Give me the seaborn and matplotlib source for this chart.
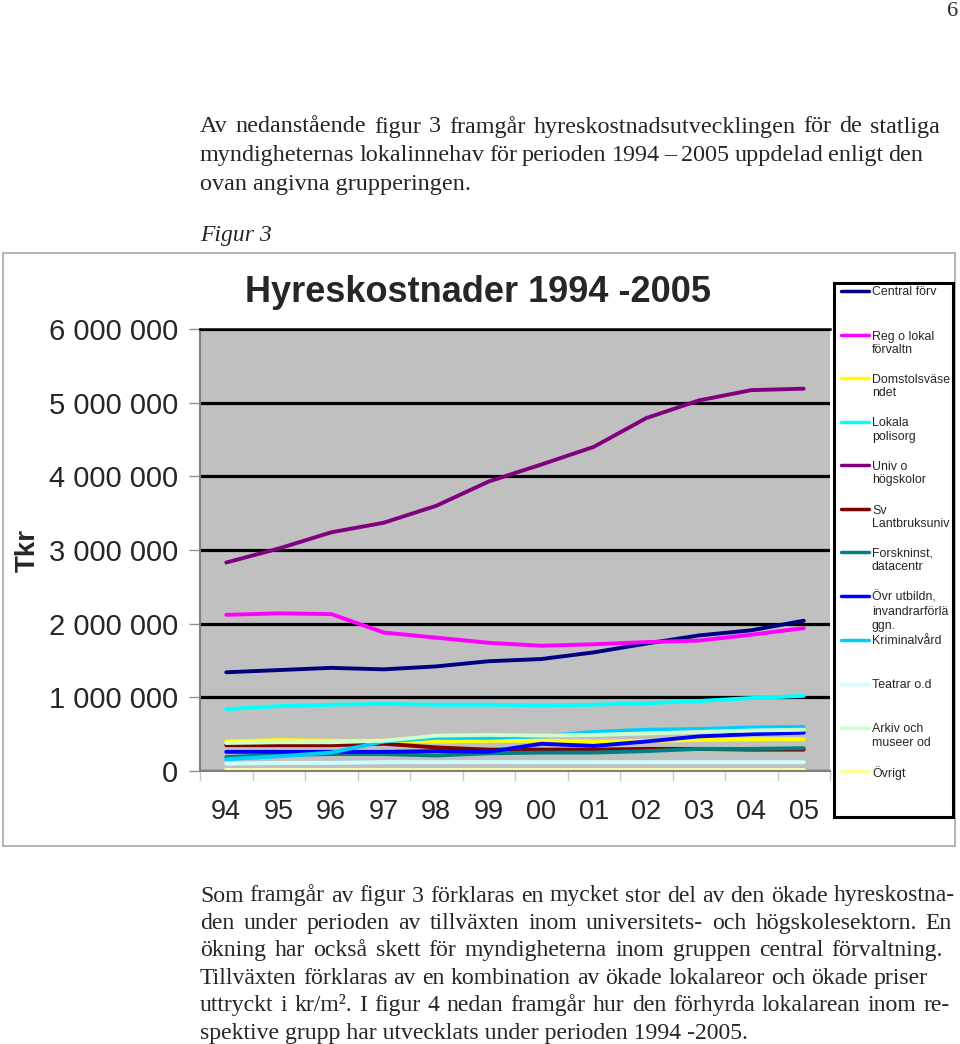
import matplotlib
matplotlib.use("Agg")
import matplotlib.pyplot as plt
from matplotlib.lines import Line2D
from matplotlib.patches import Rectangle
from matplotlib.ticker import FixedLocator, FuncFormatter
import pandas as pd
import seaborn as sns

# data (Tkr)
years = ["94", "95", "96", "97", "98", "99", "00", "01", "02", "03", "04", "05"]

central_forv = [1340000, 1370000, 1400000, 1380000, 1420000, 1490000, 1520000, 1610000, 1730000, 1840000, 1910000, 2040000]
reg_lokal = [2120000, 2140000, 2130000, 1880000, 1810000, 1740000, 1700000, 1720000, 1750000, 1770000, 1850000, 1940000]
domstol = [400000, 420000, 410000, 410000, 400000, 410000, 410000, 400000, 410000, 420000, 430000, 430000]
polis = [840000, 880000, 900000, 910000, 900000, 900000, 890000, 900000, 920000, 950000, 990000, 1020000]
univ = [2830000, 3020000, 3240000, 3370000, 3600000, 3930000, 4160000, 4400000, 4790000, 5030000, 5170000, 5190000]
lantbruk = [350000, 350000, 350000, 370000, 320000, 290000, 290000, 290000, 300000, 300000, 290000, 290000]
forsk = [190000, 220000, 230000, 230000, 210000, 240000, 250000, 250000, 270000, 300000, 300000, 310000]
ovr_utb = [260000, 260000, 260000, 260000, 270000, 260000, 370000, 340000, 400000, 470000, 500000, 520000]
krim = [160000, 200000, 250000, 400000, 450000, 450000, 470000, 530000, 560000, 570000, 590000, 600000]
teatrar = [100000, 110000, 110000, 120000, 120000, 120000, 120000, 120000, 120000, 120000, 120000, 120000]
arkiv = [380000, 390000, 390000, 410000, 480000, 490000, 480000, 490000, 510000, 530000, 550000, 560000]
ovrigt = [20000, 20000, 20000, 20000, 20000, 20000, 20000, 20000, 20000, 20000, 20000, 20000]

series = ["Central förv", "Reg o lokal förvaltn", "Domstolsväsendet", "Lokala polisorg",
          "Univ o högskolor", "Sv Lantbruksuniv", "Forskninst, datacentr",
          "Övr utbildn, invandrarförlägg.", "Kriminalvård", "Teatrar o.d",
          "Arkiv och museer od", "Övrigt"]
legend_labels = ["Central förv", "Reg o lokal\nförvaltn", "Domstolsväse\nndet", "Lokala\npolisorg",
                 "Univ o\nhögskolor", "Sv\nLantbruksuniv", "Forskninst,\ndatacentr",
                 "Övr utbildn,\ninvandrarförlä\nggn.", "Kriminalvård", "Teatrar o.d",
                 "Arkiv och\nmuseer od", "Övrigt"]
colors = ["#000080", "#FF00FF", "#FFFF00", "#00FFFF", "#800080", "#800000",
          "#008080", "#0000FF", "#00CCFF", "#CCFFFF", "#CCFFCC", "#FFFF99"]
values = [central_forv, reg_lokal, domstol, polis, univ, lantbruk, forsk,
          ovr_utb, krim, teatrar, arkiv, ovrigt]

rows = []
for name, vals in zip(series, values):
    for i, v in enumerate(vals):
        rows.append((name, i, v))
df = pd.DataFrame(rows, columns=["grupp", "ar", "tkr"])

sns.set_style("white")
plt.rcParams["font.family"] = ["Liberation Sans", "DejaVu Sans"]

W, H = 960, 1044
fig = plt.figure(figsize=(9.6, 10.44), dpi=100)
renderer = fig.canvas.get_renderer()


def fx(x):
    return x / W


def fy(y):
    return 1 - y / H


# chart frame
fig.add_artist(Rectangle((fx(3), fy(846)), fx(952), (846 - 253) / H, transform=fig.transFigure,
                         fill=False, edgecolor="#A8A8A8", lw=1.2))

ax = fig.add_axes([fx(200), fy(771), 630 / W, 442 / H])
ax.set_facecolor("#C0C0C0")

sns.lineplot(data=df, x="ar", y="tkr", hue="grupp", hue_order=series,
             palette=dict(zip(series, colors)), linewidth=2.8, legend=False,
             errorbar=None, ax=ax)
for ln in ax.lines:
    ln.set_solid_joinstyle("round")
    ln.set_solid_capstyle("round")

ax.set_xlim(-0.5, 11.5)
ax.set_ylim(0, 6000000)
ax.set_xlabel("")
ax.set_ylabel("Tkr", fontsize=20, fontweight="bold")
ax.yaxis.set_label_coords(-0.253, 0.5)

ax.set_yticks([0, 1000000, 2000000, 3000000, 4000000, 5000000, 6000000])
ax.yaxis.set_major_formatter(FuncFormatter(lambda v, p: f"{int(v):,}".replace(",", " ")))
ax.set_xticks(range(len(years)))
ax.set_xticklabels(years)
ax.xaxis.set_minor_locator(FixedLocator([i - 0.5 for i in range(len(years) + 1)]))
ax.tick_params(axis="y", labelsize=21, length=8, width=1, color="#909090", pad=8, direction="out", left=True)
ax.tick_params(axis="x", which="major", labelsize=19.5, length=0, pad=20)
ax.tick_params(axis="x", which="minor", length=7, width=1, color="#C8C8C8", direction="out", bottom=True)

ax.grid(axis="y", color="black", lw=2.3)
ax.grid(axis="x", visible=False)
ax.set_axisbelow(True)
for s in ["left", "bottom"]:
    ax.spines[s].set_color("#808080")
    ax.spines[s].set_linewidth(1.5)
ax.spines["top"].set_color("black")
ax.spines["top"].set_linewidth(1.8)
ax.spines["right"].set_visible(False)

fig.text(fx(478), fy(293), "Hyreskostnader 1994 -2005", fontsize=26, fontweight="bold",
         ha="center", va="center")

# legend box
fig.add_artist(Rectangle((fx(834), fy(817)), 119 / W, (817 - 283) / H, transform=fig.transFigure,
                         facecolor="white", edgecolor="black", lw=2.2, zorder=5))
leg_y = [291, 335, 378, 422, 465, 509, 552, 596, 640, 684, 728, 771]
for lab, col, y in zip(legend_labels, colors, leg_y):
    fig.add_artist(Line2D([fx(841), fx(869)], [fy(y), fy(y)], transform=fig.transFigure,
                          color=col, lw=2.5, zorder=6))
    fig.text(fx(872), fy(y - 4.5), lab, fontsize=8.9, ha="left", va="top",
             linespacing=1.2, zorder=6)

# page text
serif = ["Liberation Serif", "DejaVu Serif"]


def text_line(s, x0, y, size, right=None):
    # right=None: vanlig vänsterställd rad, annars utfylld till right
    if right is None:
        fig.text(fx(x0), fy(y + 5.5), s, family=serif, fontsize=size, ha="left", va="baseline")
        return
    words = s.split(" ")
    objs = [fig.text(0, fy(y + 5.5), w, family=serif, fontsize=size, ha="left", va="baseline")
            for w in words]
    widths = [t.get_window_extent(renderer).width for t in objs]
    gap = (right - x0 - sum(widths)) / (len(words) - 1)
    x = x0
    for t, w in zip(objs, widths):
        t.set_x(fx(x))
        x += w + gap


fig.text(fx(953), fy(12), "6", family=serif, fontsize=16, ha="center", va="center")
top_lines = ["Av nedanstående figur 3 framgår hyreskostnadsutvecklingen för de statliga",
             "myndigheternas lokalinnehav för perioden 1994 – 2005 uppdelad enligt den",
             "ovan angivna grupperingen."]
top_right = [940, 923, None]
for i, (t, r) in enumerate(zip(top_lines, top_right)):
    text_line(t, 200, 127 + 28.7 * i, 17.4, r)
fig.text(fx(200), fy(236), "Figur 3", family=serif, style="italic", fontsize=17, ha="left", va="center")

bottom_lines = ["Som framgår av figur 3 förklaras en mycket stor del av den ökade hyreskostna-",
                "den under perioden av tillväxten inom universitets- och högskolesektorn. En",
                "ökning har också skett för myndigheterna inom gruppen central förvaltning.",
                "Tillväxten förklaras av en kombination av ökade lokalareor och ökade priser",
                "uttryckt i kr/m². I figur 4 nedan framgår hur den förhyrda lokalarean inom re-",
                "spektive grupp har utvecklats under perioden 1994 -2005."]
bottom_right = [955, 952, 943, 928, 950, None]
for i, (t, r) in enumerate(zip(bottom_lines, bottom_right)):
    text_line(t, 200, 896 + 27.4 * i, 17.1, r)

fig.savefig("out.png", dpi=100)
